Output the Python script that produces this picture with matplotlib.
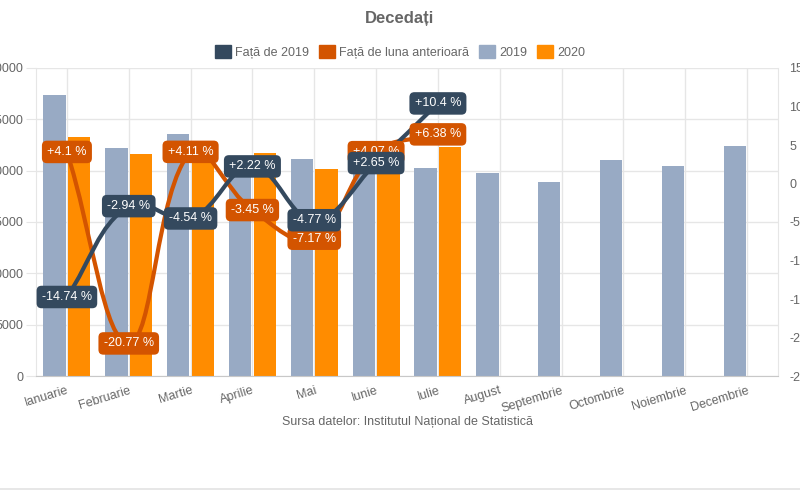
import numpy as np
import matplotlib
matplotlib.use('Agg')
import matplotlib.pyplot as plt
from matplotlib.path import Path
from matplotlib.patches import PathPatch, Patch
from matplotlib.lines import Line2D

plt.rcParams['font.family'] = ['Liberation Sans', 'DejaVu Sans']

months = ['Ianuarie', 'Februarie', 'Martie', 'Aprilie', 'Mai', 'Iunie', 'Iulie',
          'August', 'Septembrie', 'Octombrie', 'Noiembrie', 'Decembrie']
deaths_2019 = [27400, 22250, 23580, 21260, 21160, 20430, 20220, 19760, 18900, 21050, 20450, 22420]
deaths_2020 = [23300, 21600, 22500, 21720, 20160, 20980, 22320]
vs_2019 = [-14.74, -2.94, -4.54, 2.22, -4.77, 2.65, 10.4]
vs_prev_month = [4.1, -20.77, 4.11, -3.45, -7.17, 4.07, 6.38]

left_ticks = [0, 5000, 10000, 15000, 20000, 25000, 30000]
right_ticks = [-25, -20, -15, -10, -5, 0, 5, 10, 15]

C_DARK = '#34495e'
C_ORANGE_LINE = '#d35400'
C_2019 = '#98aac4'
C_2020 = '#ff8c00'
C_TEXT = '#666666'
C_GRID = '#e6e6e6'

W, H = 800, 490
fig = plt.figure(figsize=(W / 100, H / 100), dpi=100)
L, R, T, B = 36, 778, 68, 376
ax1 = fig.add_axes([L / W, 1 - B / H, (R - L) / W, (B - T) / H])
ax2 = ax1.twinx()

x = np.arange(len(months))
x20 = np.arange(len(deaths_2020))
ax1.bar(x - 0.2, deaths_2019, width=0.36, color=C_2019, zorder=2)
ax1.bar(x20 + 0.2, deaths_2020, width=0.36, color=C_2020, zorder=2)

ax1.set_xlim(-0.5, len(months) - 0.5)
ax1.set_ylim(0, 30000)
ax1.set_yticks(left_ticks)
ax1.set_yticklabels([str(t) for t in left_ticks])
ax1.set_xticks(x)
ax1.set_xticklabels(months, rotation=17, ha='right', rotation_mode='anchor')
ax1.set_axisbelow(True)
ax1.grid(True, color=C_GRID, lw=1, zorder=0)
ax1.tick_params(axis='y', length=7.2, color=C_GRID, labelcolor=C_TEXT, labelsize=9, pad=2)
ax1.tick_params(axis='x', length=0, labelcolor=C_TEXT, labelsize=9, pad=6)
for s in ['top']:
    ax1.spines[s].set_visible(False)
ax1.spines['left'].set_color(C_GRID)
ax1.spines['right'].set_color(C_GRID)
ax1.spines['bottom'].set_color('#c8c8c8')

ax2.set_ylim(-25, 15)
ax2.set_yticks(right_ticks)
ax2.set_yticklabels([str(t) for t in right_ticks])
ax2.tick_params(axis='y', length=0, labelcolor=C_TEXT, labelsize=9, pad=8)
for s in ['top', 'left', 'right', 'bottom']:
    ax2.spines[s].set_visible(False)


def chartjs_spline(ax, xs, ys, tension=0.4):
    pts = ax.transData.transform(np.column_stack([xs, ys]))
    n = len(pts)
    prev_cp = np.zeros_like(pts)
    next_cp = np.zeros_like(pts)
    for i in range(n):
        cur = pts[i]
        prv = pts[i - 1] if i > 0 else cur
        nxt = pts[i + 1] if i < n - 1 else cur
        d01 = np.hypot(*(cur - prv))
        d12 = np.hypot(*(nxt - cur))
        tot = d01 + d12
        s01 = d01 / tot if tot else 0
        s12 = d12 / tot if tot else 0
        prev_cp[i] = cur - tension * s01 * (nxt - prv)
        next_cp[i] = cur + tension * s12 * (nxt - prv)
    verts = [pts[0]]
    codes = [Path.MOVETO]
    for i in range(n - 1):
        verts += [next_cp[i], prev_cp[i + 1], pts[i + 1]]
        codes += [Path.CURVE4] * 3
    verts = ax.transData.inverted().transform(np.array(verts))
    return Path(verts, codes)


p_prev = chartjs_spline(ax2, x20.astype(float), np.array(vs_prev_month, float))
ax2.add_patch(PathPatch(p_prev, fc='none', ec=C_ORANGE_LINE, lw=3, zorder=3,
                        capstyle='round', joinstyle='round'))
p_2019 = chartjs_spline(ax2, x20.astype(float), np.array(vs_2019, float))
ax2.add_patch(PathPatch(p_2019, fc='none', ec=C_DARK, lw=3, zorder=4,
                        capstyle='round', joinstyle='round'))

for xi, v in zip(x20, vs_prev_month):
    ax2.text(xi, v, f"{v:+g} %", color='white', fontsize=9, ha='center', va='center', zorder=5,
             bbox=dict(boxstyle='round,pad=0.42,rounding_size=0.4', fc=C_ORANGE_LINE, ec='none'))
for xi, v in zip(x20, vs_2019):
    ax2.text(xi, v, f"{v:+g} %", color='white', fontsize=9, ha='center', va='center', zorder=6,
             bbox=dict(boxstyle='round,pad=0.42,rounding_size=0.4', fc=C_DARK, ec='none'))

fig.text(0.5, 1 - 18 / H, 'Decedați', ha='center', va='center', fontsize=12,
         fontweight='bold', color=C_TEXT)

handles = [Patch(color=C_DARK), Patch(color=C_ORANGE_LINE), Patch(color=C_2019), Patch(color=C_2020)]
labels = ['Față de 2019', 'Față de luna anterioară', '2019', '2020']
leg = fig.legend(handles, labels, loc='center', bbox_to_anchor=(0.5, 1 - 52 / H), ncol=4,
                 frameon=False, fontsize=9, handlelength=1.25, handleheight=1.25,
                 handletextpad=0.35, columnspacing=0.8, labelcolor=C_TEXT)

fig.text(407 / W, 1 - 422 / H, 'Sursa datelor: Institutul Național de Statistică',
         ha='center', va='center', fontsize=9, color=C_TEXT)

fig.add_artist(Line2D([0, 1], [1.5 / H, 1.5 / H], color='#e3e3e3', lw=1.2))

fig.savefig('out.png', dpi=100)
